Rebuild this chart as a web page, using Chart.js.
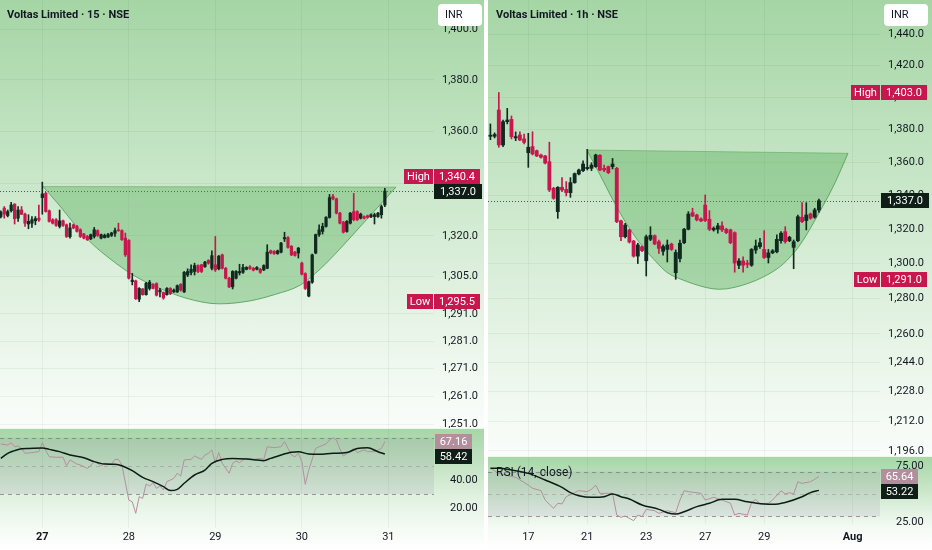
<!DOCTYPE html>
<html>
<head>
<meta charset="utf-8">
<title>Voltas Limited</title>
<script src="https://cdn.jsdelivr.net/npm/chart.js@4.4.1/dist/chart.umd.min.js"></script>
<style>
  html, body { margin:0; padding:0; width:932px; height:550px; overflow:hidden; background:#fff; }
  .box { position:absolute; }
  .box canvas { position:absolute; left:0; top:0; }
  #lp { left:0; top:0; width:484px; height:428px;
        background:linear-gradient(to bottom,#a5d5a5 0%,#bfe2bf 30%,#d5ecd5 55%,#e9f5e9 78%,#fafdfa 100%); }
  #rp { left:488px; top:0; width:444px; height:456px;
        background:linear-gradient(to bottom,#a5d5a5 0%,#bfe2bf 30%,#d5ecd5 55%,#e9f5e9 78%,#fafdfa 100%); }
  #lr { left:0; top:428px; width:484px; height:122px;
        background:linear-gradient(to bottom,#a6d6a6 0%,#c3e3c3 30%,#e2f2e2 58%,#f3faf3 80%,#ffffff 100%); }
  #rr { left:488px; top:456px; width:444px; height:94px;
        background:linear-gradient(to bottom,#a6d6a6 0%,#c3e3c3 30%,#e2f2e2 58%,#f3faf3 75%,#ffffff 100%); }
  .sep { position:absolute; height:1px; background:#eef7ee; }
  .title { position:absolute; top:7px; font-family:Roboto,"Liberation Sans",sans-serif; font-weight:700;
           font-size:11px; line-height:16px; color:#131722; white-space:nowrap; }
  .inr { position:absolute; top:4px; height:22px; background:#fff; border-radius:4px;
         font-family:Roboto,"Liberation Sans",sans-serif; font-size:11px; line-height:22px; color:#131722;
         padding-left:7px; box-sizing:border-box; }
  .rsilbl { position:absolute; font-family:Roboto,"Liberation Sans",sans-serif; font-size:12px; color:#131722;
            line-height:14px; white-space:nowrap; }
</style>
</head>
<body>
<div class="box" id="lp"><canvas id="cLP" width="484" height="428"></canvas></div>
<div class="box" id="lr"><canvas id="cLR" width="484" height="122"></canvas></div>
<div class="box" id="rp"><canvas id="cRP" width="444" height="456"></canvas></div>
<div class="box" id="rr"><canvas id="cRR" width="444" height="94"></canvas></div>
<div class="sep" style="left:0;top:428px;width:484px;"></div>
<div class="sep" style="left:488px;top:456px;width:444px;"></div>
<div class="title" style="left:7px;">Voltas Limited · 15 · NSE</div>
<div class="title" style="left:496px;">Voltas Limited · 1h · NSE</div>
<div class="inr" style="left:438px;width:44px;">INR</div>
<div class="inr" style="left:884px;width:44px;">INR</div>
<div class="rsilbl" style="left:496px;top:465px;">RSI (14, close)</div>
<script>
// ===================== DATA =====================
// ---- Left panel: 15 minute candles ----
const leftDayLabels = ['27','28','29','30','31'];
const leftDayIndex  = [12, 37, 62, 87, 112];
const leftBoldLabels = ['27'];
const leftPriceTicks = [1400,1380,1360,1340,1320,1305,1291,1281,1271,1261,1251];
const leftRsiTicks = [80, 40, 20];

const leftOpen = [1327.3,1330.5,1327.7,1329.5,1332.0,1326.7,1329.8,1328.2,1324.5,1324.8,1325.7,1326.7,1334.5,1336.1,1329.5,1326.1,1326.1,1323.6,1325.7,1324.2,
1319.7,1324.2,1323.6,1322.3,1320.7,1319.8,1318.9,1319.8,1322.0,1319.2,1319.4,1319.6,1320.2,1321.0,1322.3,1322.0,1319.2,1318.3,1302.9,1303.2,
1296.4,1300.2,1298.1,1300.4,1301.9,1302.2,1299.1,1298.9,1298.1,1300.4,1299.1,1299.1,1301.9,1299.1,1305.4,1306.3,1306.7,1308.9,1309.2,1308.5,
1310.8,1307.9,1309.2,1307.7,1312.9,1307.9,1304.2,1301.0,1304.2,1306.2,1306.4,1307.5,1308.4,1307.9,1307.5,1307.5,1307.3,1307.9,1314.4,1314.2,
1313.4,1313.9,1318.9,1319.4,1316.1,1313.9,1313.6,1309.8,1305.9,1297.6,1302.7,1313.6,1320.5,1321.7,1323.6,1327.0,1334.9,1334.0,1328.6,1325.2,
1321.7,1324.8,1329.2,1329.2,1326.7,1327.3,1327.6,1327.2,1327.3,1327.3,1328.0,1331.7];
const leftHigh = [1329.5,1331.1,1329.8,1332.7,1332.2,1331.1,1331.1,1328.6,1328.0,1327.3,1327.3,1331.7,1340.4,1336.5,1329.8,1326.5,1326.5,1329.8,1326.0,1324.5,
1324.8,1324.5,1324.0,1322.7,1321.0,1320.2,1320.7,1323.2,1322.3,1320.7,1320.7,1321.0,1321.4,1323.0,1324.8,1322.3,1321.1,1318.6,1306.0,1303.5,
1300.7,1300.4,1302.7,1303.4,1302.2,1302.5,1300.4,1299.1,1300.7,1300.7,1300.2,1301.7,1302.2,1306.7,1307.7,1309.2,1309.8,1309.2,1309.4,1310.5,
1311.1,1314.4,1319.8,1312.7,1313.2,1308.2,1304.5,1307.0,1307.0,1309.4,1309.4,1308.5,1308.9,1308.2,1308.5,1307.9,1309.2,1316.7,1314.7,1314.5,
1314.7,1317.6,1321.4,1319.8,1316.4,1314.2,1315.7,1310.2,1306.2,1303.2,1313.2,1320.7,1324.2,1324.8,1327.3,1335.7,1335.7,1334.3,1328.9,1325.5,
1325.8,1328.9,1336.1,1329.5,1328.6,1327.6,1327.9,1328.3,1328.6,1328.9,1331.7,1338.0];
const leftLow = [1326.8,1326.7,1327.2,1329.0,1324.5,1325.5,1328.0,1323.6,1322.7,1323.2,1324.2,1325.5,1328.2,1329.0,1325.2,1324.5,1323.6,1323.0,1323.6,1319.4,
1319.2,1322.7,1321.4,1319.4,1318.9,1318.3,1318.6,1319.2,1319.8,1318.9,1319.2,1319.4,1319.8,1319.8,1321.7,1318.3,1312.3,1303.9,1301.7,1296.3,
1295.5,1297.9,1297.9,1299.8,1300.2,1297.6,1297.3,1296.4,1297.9,1298.1,1298.9,1298.9,1299.4,1298.9,1304.8,1305.4,1305.4,1306.3,1306.3,1308.2,
1309.4,1307.3,1306.7,1307.3,1307.6,1303.9,1300.7,1300.2,1303.9,1305.4,1306.0,1307.3,1307.5,1306.9,1307.3,1306.0,1307.0,1307.7,1313.3,1313.1,
1313.1,1313.6,1317.9,1315.4,1312.6,1312.4,1311.7,1305.4,1300.0,1297.3,1302.3,1313.3,1319.8,1320.7,1323.3,1326.7,1333.6,1328.3,1324.5,1321.1,
1321.4,1324.5,1325.7,1325.8,1326.4,1326.4,1326.7,1326.9,1324.5,1327.0,1326.7,1331.1];
const leftClose = [1329.0,1328.2,1329.2,1331.7,1326.5,1329.8,1328.2,1324.8,1325.5,1326.1,1326.5,1326.0,1335.9,1329.2,1325.5,1324.8,1324.0,1325.7,1324.0,1319.8,
1323.0,1323.0,1321.7,1319.8,1319.2,1318.6,1320.5,1322.3,1320.2,1320.5,1320.2,1320.5,1321.1,1322.0,1322.0,1318.6,1312.9,1304.2,1303.5,1296.6,
1300.4,1298.1,1302.3,1302.7,1300.4,1297.9,1299.8,1296.9,1300.4,1298.5,1299.8,1301.4,1299.8,1306.4,1306.7,1307.5,1308.9,1306.7,1306.7,1310.2,
1309.8,1312.6,1307.3,1312.4,1307.9,1304.2,1301.0,1306.7,1306.7,1306.7,1308.2,1308.2,1307.8,1307.2,1308.2,1306.4,1308.9,1313.9,1313.6,1313.4,
1314.4,1317.3,1319.4,1315.7,1312.9,1312.7,1315.4,1305.7,1300.4,1302.9,1312.9,1320.5,1322.3,1323.6,1327.0,1334.5,1334.0,1328.6,1324.8,1321.4,
1325.5,1328.6,1326.1,1326.1,1328.2,1326.7,1327.0,1328.0,1328.0,1328.6,1331.1,1337.0];

// cup drawing (bar index, price)
const leftCupX = [12.2,17.1,21.7,25.8,31.6,38.2,45.1,53.8,63.1,72.0,79.3,86.5,92.3,98.0,103.8,109.0,114.2];
const leftCupY = [1338.7,1331.3,1323.8,1317.8,1311.4,1305.4,1300.9,1296.7,1294.7,1295.8,1298.2,1301.6,1307.6,1315.1,1323.4,1330.9,1338.5];
const leftCupTopX = [12.2, 114.2];
const leftCupTopY = [1338.7, 1338.5];

// RSI (14, close) and its moving average
const leftRsiIdx = [0,2,3,4,5,6,7,9,11,12,13,14,16,18,19,20,22,23,25,26,27,29,30,32,33,34,35,37,38,39,40,41,42,43,44,45,46,47,48,49,50,51,52,53,55,56,58,59,60,61,62,63,64,66,67,68,69,70,71,73,75,76,77,79,81,82,84,85,86,87,88,89,91,92,94,95,96,97,98,99,101,102,103,105,106,108,110,111];
const leftRsiVal = [65.5,64.8,66.5,63.6,64.1,62.4,58.9,59.4,60.1,66.5,60.8,56.5,56.1,56.1,50.1,54.2,51.3,50.6,48.2,50.1,53.4,50.1,51.8,51.3,54.6,54.6,50.6,25.7,24.5,16.3,28.1,26.9,37.1,35.7,38.0,34.0,35.7,32.8,38.8,39.9,41.1,44.7,42.8,54.2,54.6,57.0,54.6,57.7,58.9,61.3,52.3,59.4,51.8,44.7,51.8,53.4,52.3,54.2,55.3,54.6,55.3,54.6,63.6,62.9,63.6,67.2,57.7,56.5,58.9,53.0,36.9,47.0,62.4,63.6,65.5,68.4,70.0,68.4,62.0,57.0,60.5,62.4,59.4,61.3,60.1,60.1,62.4,67.16];
const leftMaIdx = [0,2,4,6,8,12,14,17,20,24,27,30,33,35,38,41,44,47,49,51,53,56,59,61,64,67,71,74,76,78,81,84,86,89,92,96,100,103,106,109,111];
const leftMaVal = [55.3,58.9,60.8,62.2,62.4,62.7,61.7,60.1,57.7,55.8,53.0,51.3,51.1,50.1,46.6,41.8,38.8,35.2,32.4,33.3,37.6,43.5,47.0,51.8,54.6,55.3,54.9,54.2,53.7,55.3,57.7,59.6,60.1,58.4,58.2,58.9,59.4,62.4,62.9,60.0,58.42];

// ---- Right panel: 1 hour candles ----
const rightDayLabels = ['17','21','23','27','29','Aug'];
const rightDayIndex  = [9, 23, 37, 51, 65, 86];
const rightBoldLabels = ['Aug'];
const rightPriceTicks = [1440,1420,1400,1380,1360,1340,1320,1300,1280,1260,1244,1228,1212,1196];
const rightRsiTicks = [75, 25];

const rightOpen = [1375.9,1375.9,1392.1,1370.6,1384.9,1386.3,1374.9,1376.7,1374.3,1365.9,1369.6,1367.1,1364.5,1363.9,1360.4,1344.4,1330.5,1345.0,1343.8,1341.8,
1347.8,1353.0,1355.0,1356.2,1356.4,1357.4,1364.3,1356.4,1357.4,1357.4,1356.4,1325.1,1315.7,1319.7,1313.2,1304.4,1309.9,1301.7,1314.2,1316.3,
1312.8,1307.2,1308.3,1311.4,1294.8,1303.0,1312.2,1320.1,1329.9,1328.5,1326.2,1334.4,1326.0,1319.7,1320.1,1322.1,1320.1,1319.7,1318.1,1299.1,
1301.6,1300.4,1299.1,1307.9,1309.9,1308.3,1303.6,1306.3,1306.9,1313.4,1318.7,1313.4,1309.5,1313.4,1327.2,1325.2,1329.1,1327.2,1331.5];
const rightHigh = [1383.5,1378.0,1403.0,1385.9,1393.1,1388.4,1378.6,1378.7,1377.3,1377.7,1378.7,1367.5,1365.0,1364.3,1372.3,1345.0,1345.4,1350.8,1348.4,1350.8,
1353.6,1356.0,1361.0,1367.9,1359.8,1365.0,1364.8,1358.4,1357.8,1362.4,1357.0,1325.5,1323.6,1320.1,1313.6,1311.9,1310.4,1316.7,1321.6,1316.8,
1313.8,1310.9,1313.8,1312.0,1308.0,1313.8,1320.7,1330.5,1332.5,1329.0,1326.8,1340.4,1331.1,1321.5,1323.6,1324.4,1320.7,1320.2,1318.6,1303.0,
1304.0,1302.0,1308.8,1313.8,1314.8,1319.3,1308.3,1308.2,1316.8,1318.7,1321.6,1316.0,1313.8,1328.5,1335.8,1335.8,1329.7,1332.5,1338.0];
const rightLow = [1373.8,1374.9,1369.2,1369.6,1383.5,1374.3,1373.2,1373.2,1371.2,1357.0,1364.5,1363.5,1362.6,1359.1,1342.4,1337.8,1326.5,1342.4,1339.8,1339.0,
1347.4,1352.4,1354.4,1355.4,1355.0,1357.0,1355.0,1354.4,1353.2,1356.0,1324.0,1313.4,1315.0,1312.0,1303.8,1300.1,1307.0,1292.9,1313.4,1311.0,
1306.0,1305.0,1301.0,1307.7,1291.0,1301.0,1311.6,1319.7,1327.5,1325.0,1324.5,1324.6,1319.3,1319.0,1317.8,1318.7,1317.5,1311.6,1295.1,1297.1,
1295.1,1297.7,1298.5,1306.0,1308.9,1303.0,1300.4,1305.8,1306.3,1311.9,1311.9,1312.8,1297.1,1312.8,1324.0,1319.7,1326.0,1326.6,1330.0];
const rightClose = [1376.6,1377.0,1370.6,1384.9,1385.9,1375.7,1375.7,1373.6,1372.2,1369.2,1365.1,1363.9,1363.1,1359.6,1343.4,1338.4,1345.0,1343.4,1341.8,1347.8,
1353.2,1355.4,1359.0,1357.0,1358.4,1364.5,1355.4,1355.4,1353.8,1359.0,1324.5,1315.7,1322.6,1312.6,1304.4,1310.9,1307.6,1315.7,1316.5,1311.5,
1308.9,1310.0,1310.9,1308.3,1306.5,1311.9,1320.1,1329.1,1327.9,1325.6,1325.0,1325.2,1320.1,1320.7,1322.1,1319.7,1318.1,1312.2,1300.4,1301.6,
1299.1,1299.6,1308.3,1310.3,1312.2,1303.6,1306.3,1307.5,1314.2,1317.8,1312.8,1315.4,1312.8,1327.5,1324.6,1328.5,1326.6,1331.5,1337.0];

const rightCupX = [22.9,25.8,29.1,32.2,35.3,39.3,41.9,45.7,51.4,54.5,60.0,65.7,69.5,73.5,78.0,81.8,84.9];
const rightCupY = [1367.5,1353.6,1337.4,1323.8,1312.6,1301.2,1295.0,1290.6,1286.2,1285.3,1287.7,1293.5,1299.8,1310.9,1329.6,1347.6,1365.5];
const rightCupTopX = [22.9, 84.9];
const rightCupTopY = [1367.5, 1365.5];

const rightRsiIdx = [0,2,5,6,9,10,12,13,15,16,17,18,20,21,23,24,25,26,28,29,30,31,32,34,35,36,37,39,40,42,44,45,46,47,50,51,53,55,57,58,59,61,62,63,64,66,67,69,70,71,72,73,74,76,77,78];
const rightRsiVal = [72.9,68.4,65.5,64.9,58.0,55.1,53.0,44.6,37.2,41.7,41.1,47.6,51.2,53.0,52.1,54.2,58.0,50.6,50.6,50.6,31.2,29.2,30.3,26.2,31.2,29.8,36.3,35.1,32.7,35.1,33.3,44.6,53.0,52.1,50.6,44.6,47.0,44.6,41.7,31.2,32.7,31.2,42.2,45.2,41.1,41.7,44.6,53.0,50.0,51.2,50.0,61.0,59.5,61.0,63.1,65.64];
const rightMaIdx = [0,2,5,9,13,17,19,21,24,27,29,31,33,36,40,42,44,46,49,52,55,58,61,65,67,70,74,76,78];
const rightMaVal = [72.9,72.9,71.4,68.4,62.5,55.9,51.2,48.5,47.0,47.6,50.0,47.6,45.5,40.2,36.3,33.3,32.1,34.2,38.7,41.7,45.2,45.2,43.1,41.1,40.8,42.5,47.6,51.2,53.22];

const rsiLevels = [70, 50, 30];

// ===================== STYLE / RENDER =====================
const UP = '#112a20', DOWN = '#c8174e', CLOSE_BG = '#0f1e17';
const RSI_COL = '#b38e9d', MA_COL = '#0b1d15', TXT = '#131722';
const GRID = 'rgba(30,70,30,0.06)';
const FONT = 'Roboto, "Liberation Sans", sans-serif';

function fmtPrice(v){ return v.toLocaleString('en-US',{minimumFractionDigits:1, maximumFractionDigits:1}); }

function drawBox(ctx, x, yc, w, h, bg, text){
  ctx.fillStyle = bg;
  ctx.fillRect(x, Math.round(yc - h/2), w, h);
  ctx.fillStyle = '#fff';
  ctx.font = '11px ' + FONT;
  ctx.textBaseline = 'middle';
  ctx.textAlign = 'center';
  ctx.fillText(text, x + w/2, Math.round(yc - h/2) + h/2 + 0.5);
}

function pricePlugin(p){
  return {
    id: 'priceMarks',
    beforeDatasetsDraw(chart){
      const {ctx, chartArea:a, scales:{y}} = chart;
      const yy = Math.round(y.getPixelForValue(p.close)) + 0.5;
      ctx.save();
      ctx.strokeStyle = 'rgba(19,23,34,0.7)'; ctx.lineWidth = 1; ctx.setLineDash([1,2]);
      ctx.beginPath(); ctx.moveTo(a.left, yy); ctx.lineTo(a.right, yy); ctx.stroke();
      ctx.restore();
    },
    afterDraw(chart){
      const {ctx, scales:{y}} = chart;
      const h = 15;
      const yc = y.getPixelForValue(p.close);
      let yh = y.getPixelForValue(p.high), yl = y.getPixelForValue(p.low);
      if (yh > yc - h) yh = yc - h;
      if (yl < yc + h) yl = yc + h;
      ctx.save();
      ctx.font = '11px ' + FONT;
      const twH = Math.round(ctx.measureText('High').width + 6);
      const twL = Math.round(ctx.measureText('Low').width + 6);
      drawBox(ctx, p.valX, yh, p.valW, h, DOWN, fmtPrice(p.high));
      drawBox(ctx, p.valX - 1 - twH, yh, twH, h, DOWN, 'High');
      drawBox(ctx, p.valX, yl, p.valW, h, DOWN, fmtPrice(p.low));
      drawBox(ctx, p.valX - 1 - twL, yl, twL, h, DOWN, 'Low');
      drawBox(ctx, p.valX, yc, p.valW + 2, h, CLOSE_BG, fmtPrice(p.close));
      ctx.restore();
    }
  };
}

function rsiPlugin(p){
  return {
    id: 'rsiMarks',
    beforeDatasetsDraw(chart){
      const {ctx, chartArea:a, scales:{y}} = chart;
      const yU = y.getPixelForValue(rsiLevels[0]), yM = y.getPixelForValue(rsiLevels[1]), yL = y.getPixelForValue(rsiLevels[2]);
      ctx.save();
      ctx.fillStyle = 'rgba(110,90,140,0.11)';
      ctx.fillRect(a.left, yU, a.right - a.left, yL - yU);
      ctx.setLineDash([4,4]); ctx.lineWidth = 1;
      [[yU,'rgba(120,125,130,0.75)'],[yM,'rgba(160,125,145,0.45)'],[yL,'rgba(150,105,130,0.75)']].forEach(([yy,c])=>{
        ctx.strokeStyle = c; ctx.beginPath();
        ctx.moveTo(a.left, Math.round(yy)+0.5); ctx.lineTo(a.right, Math.round(yy)+0.5); ctx.stroke();
      });
      ctx.restore();
    },
    afterDraw(chart){
      const {ctx, scales:{y}} = chart;
      const h = 15;
      let yr = y.getPixelForValue(p.rsi), ym = y.getPixelForValue(p.ma);
      if (ym < yr + h) ym = yr + h;
      ctx.save();
      drawBox(ctx, p.valX, yr, p.valW, h, RSI_COL, p.rsi.toFixed(2));
      drawBox(ctx, p.valX, ym, p.valW, h, CLOSE_BG, p.ma.toFixed(2));
      ctx.restore();
    }
  };
}

function makePriceChart(id, o){
  const idx = o.open.map((_, i) => i);
  const cols = idx.map(i => o.close[i] >= o.open[i] ? UP : DOWN);
  const bodies = idx.map(i => ({x:i, y:[o.open[i], o.close[i]]}));
  const wicks = idx.map(i => ({x:i, y:[o.low[i], o.high[i]]}));
  const cupTop = o.cupTopX.map((x,i) => ({x, y:o.cupTopY[i]}));
  const cupCurve = o.cupX.map((x,i) => ({x, y:o.cupY[i]}));
  const high = Math.max(...o.high), low = Math.min(...o.low), close = o.close[o.close.length-1];
  new Chart(document.getElementById(id), {
    type: 'bar',
    data: { datasets: [
      {data:bodies, backgroundColor:cols, barThickness:o.bodyW, grouped:false, order:1, borderWidth:0},
      {data:wicks, backgroundColor:cols, barThickness:1, grouped:false, order:2, borderWidth:0},
      {type:'line', data:cupTop, borderColor:'rgba(70,150,72,0.45)', borderWidth:1, pointRadius:0, fill:false, order:4},
      {type:'line', data:cupCurve, borderColor:'rgba(70,150,72,0.75)', borderWidth:1, pointRadius:0,
       cubicInterpolationMode:'monotone', fill:2, backgroundColor:'rgba(80,170,82,0.38)', order:3}
    ]},
    options: {
      responsive:false, animation:false, events:[], layout:{padding:0},
      plugins:{legend:{display:false}, tooltip:{enabled:false}},
      scales:{
        x:{type:'linear', min:o.xMin, max:o.xMax, offset:false,
           afterBuildTicks:s=>{ s.ticks = o.dayIdx.map(v=>({value:v})); },
           afterFit:s=>{ s.height = 0; s.paddingLeft = 0; s.paddingRight = 0; },
           ticks:{display:false}, grid:{color:GRID, drawTicks:false, offset:false}, border:{display:false}},
        y:{type:'logarithmic', position:'right', min:o.yMin, max:o.yMax,
           afterBuildTicks:s=>{ s.ticks = o.yTicks.map(v=>({value:v})); },
           afterFit:s=>{ s.width = o.axisW; s.paddingTop = 0; s.paddingBottom = 0; },
           ticks:{autoSkip:false, padding:8, color:TXT, font:{size:11, family:FONT}, callback:v=>fmtPrice(v)},
           grid:{color:GRID, drawTicks:false}, border:{display:false}}
      }
    },
    plugins:[pricePlugin({close, high, low, valX:o.valX, valW:o.valW})]
  });
}

function makeRsiChart(id, o){
  const rsi = o.rsiIdx.map((x,i) => ({x, y:o.rsiVal[i]}));
  const ma = o.maIdx.map((x,i) => ({x, y:o.maVal[i]}));
  new Chart(document.getElementById(id), {
    type:'line',
    data:{ datasets:[
      {data:rsi, borderColor:RSI_COL, borderWidth:1, pointRadius:0, tension:0, order:2},
      {data:ma, borderColor:MA_COL, borderWidth:1.5, pointRadius:0, cubicInterpolationMode:'monotone', order:1}
    ]},
    options:{
      responsive:false, animation:false, events:[], layout:{padding:0},
      plugins:{legend:{display:false}, tooltip:{enabled:false}},
      scales:{
        x:{type:'linear', min:o.xMin, max:o.xMax, offset:false,
           afterBuildTicks:s=>{ s.ticks = o.dayIdx.map(v=>({value:v})); },
           afterFit:s=>{ s.height = o.xAxisH; s.paddingLeft = 0; s.paddingRight = 0; },
           ticks:{autoSkip:false, maxRotation:0, padding:o.xPad, color:TXT,
                  font:c=>{ const lab = o.dayLabels[o.dayIdx.indexOf(c.tick ? c.tick.value : -1)];
                            return {size:11, family:FONT, weight: o.bold.includes(lab) ? 'bold' : 'normal'}; },
                  callback:v=>o.dayLabels[o.dayIdx.indexOf(v)]},
           grid:{color:GRID, drawTicks:false}, border:{display:false}},
        y:{type:'linear', position:'right', min:o.yMin, max:o.yMax,
           afterBuildTicks:s=>{ s.ticks = o.yTicks.filter(v=>v>=s.min && v<=s.max).map(v=>({value:v})); },
           afterFit:s=>{ s.width = o.axisW; s.paddingTop = 0; s.paddingBottom = 0; },
           ticks:{autoSkip:false, padding:8, color:TXT, font:{size:11, family:FONT}, callback:v=>v.toFixed(2)},
           grid:{display:false}, border:{display:false}}
      }
    },
    plugins:[rsiPlugin({rsi:o.rsiVal[o.rsiVal.length-1], ma:o.maVal[o.maVal.length-1], valX:o.valX, valW:37})]
  });
}

makePriceChart('cLP', {open:leftOpen, high:leftHigh, low:leftLow, close:leftClose,
  cupX:leftCupX, cupY:leftCupY, cupTopX:leftCupTopX, cupTopY:leftCupTopY,
  dayIdx:leftDayIndex, yTicks:leftPriceTicks, xMin:-0.23, xMax:125.2, yMin:1249.7, yMax:1411.8,
  axisW:50, bodyW:2.6, valX:434, valW:46});
makeRsiChart('cLR', {rsiIdx:leftRsiIdx, rsiVal:leftRsiVal, maIdx:leftMaIdx, maVal:leftMaVal,
  dayIdx:leftDayIndex, dayLabels:leftDayLabels, bold:leftBoldLabels, yTicks:leftRsiTicks,
  xMin:-0.23, xMax:125.2, yMin:5.84, yMax:76.89, axisW:50, xAxisH:22, xPad:3, valX:435});
makePriceChart('cRP', {open:rightOpen, high:rightHigh, low:rightLow, close:rightClose,
  cupX:rightCupX, cupY:rightCupY, cupTopX:rightCupTopX, cupTopY:rightCupTopY,
  dayIdx:rightDayIndex, yTicks:rightPriceTicks, xMin:-0.57, xMax:92.5, yMin:1193.3, yMax:1462.0,
  axisW:52, bodyW:3.2, valX:393, valW:46});
makeRsiChart('cRR', {rsiIdx:rightRsiIdx, rsiVal:rightRsiVal, maIdx:rightMaIdx, maVal:rightMaVal,
  dayIdx:rightDayIndex, dayLabels:rightDayLabels, bold:rightBoldLabels, yTicks:rightRsiTicks,
  xMin:-0.57, xMax:92.5, yMin:23.21, yMax:83.93, axisW:52, xAxisH:26, xPad:7, valX:393});
</script>
</body>
</html>
